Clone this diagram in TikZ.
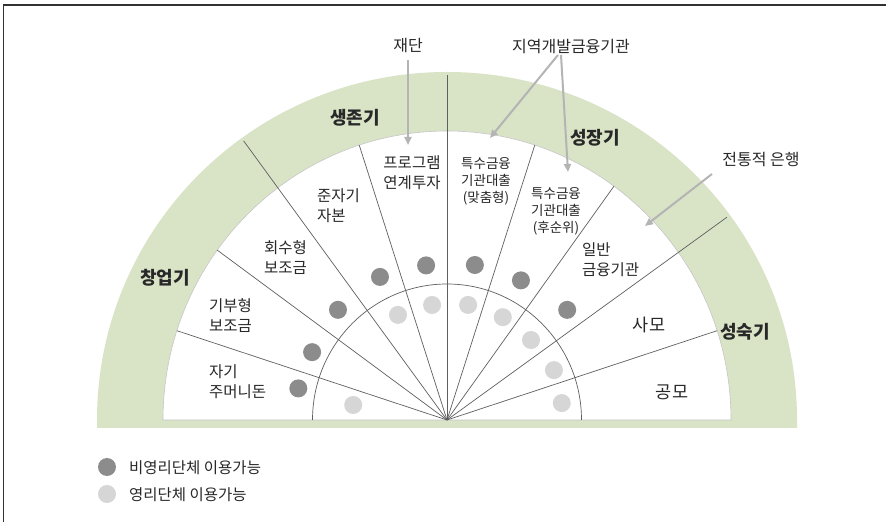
\documentclass[tikz,border=0pt]{standalone}
\usepackage{fontspec}
\setmainfont{Noto Sans CJK KR}
\usetikzlibrary{arrows.meta,calc}
\definecolor{band}{RGB}{217,227,198}
\definecolor{dotdark}{RGB}{140,140,140}
\definecolor{dotlight}{RGB}{214,214,214}
\definecolor{linegray}{RGB}{95,95,95}
\definecolor{arrowgray}{RGB}{180,180,180}
\definecolor{txt}{RGB}{40,40,40}
\definecolor{framegray}{RGB}{50,50,50}
\begin{document}
\begin{tikzpicture}[x=1pt,y=1pt,
  sector/.style={font=\fontsize{15.5}{20}\selectfont, text=txt, align=left, inner sep=0pt},
  sectorbig/.style={font=\fontsize{17.5}{20}\selectfont, text=txt, inner sep=0pt},
  sectorsm/.style={font=\fontsize{13.5}{17}\selectfont, text=txt, align=center, inner sep=0pt},
  stage/.style={font=\fontsize{18}{20}\selectfont\bfseries, text=txt, inner sep=0pt},
  callout/.style={font=\fontsize{16}{18}\selectfont, text=txt, inner sep=0pt},
  legendtext/.style={font=\fontsize{15.5}{18}\selectfont, text=txt, inner sep=0pt, anchor=west},
  darkdot/.style={circle, fill=dotdark, minimum size=18pt, inner sep=0pt},
  lightdot/.style={circle, fill=dotlight, minimum size=18pt, inner sep=0pt},
  sepline/.style={draw=linegray, line width=0.7pt},
  callarrow/.style={draw=arrowgray, line width=2pt, -{Triangle[length=8pt,width=7pt]}}
]
\useasboundingbox (0,0) rectangle (886,522);
\fill[white] (0,0) rectangle (886,522);
% frame (top and left only)
\draw[framegray, line width=1.6pt] (3.5,0) -- (3.5,517) -- (886,517);

\coordinate (C) at (447,102);
% green band
\fill[band] (97,94) -- (97,102) arc[start angle=180, end angle=0, x radius=350, y radius=348] -- (797,94) -- cycle;
% white fan
\filldraw[fill=white, draw=gray!45, line width=0.6pt] (163,102) arc[start angle=180, end angle=0, x radius=284, y radius=289] -- cycle;
% inner arc
\draw[sepline] (312.5,102) arc[start angle=180, end angle=0, x radius=134.5, y radius=136];
% sector lines
\foreach \a in {162,144,108,72,54,18} {
  \draw[sepline] (C) -- ++(\a:284 and 289);
}
\foreach \a in {126,90,36} {
  \draw[sepline] (C) -- ++(\a:346 and 345);
}

% dark dots (nonprofit)
\node[darkdot] (d1) at ($(C)+(168:152)$) {};
\node[darkdot] (d2) at ($(C)+(153.3:151)$) {};
\node[darkdot] (d3) at ($(C)+(134.7:155)$) {};
\node[darkdot] (d4) at ($(C)+(115.1:158)$) {};
\node[darkdot] (d5) at ($(C)+(97.7:156)$) {};
\node[darkdot] (d6) at ($(C)+(79.8:157.5)$) {};
\node[darkdot] (d7) at ($(C)+(62.1:158)$) {};
\node[darkdot] (d8) at ($(C)+(42.5:163)$) {};
% light dots (for-profit)
\node[lightdot] (l1) at ($(C)+(170.9:95)$) {};
\node[lightdot] (l2) at ($(C)+(115:116)$) {};
\node[lightdot] (l3) at ($(C)+(97.4:116)$) {};
\node[lightdot] (l4) at ($(C)+(79.6:117)$) {};
\node[lightdot] (l5) at ($(C)+(61.5:117)$) {};
\node[lightdot] (l6) at ($(C)+(43.6:116)$) {};
\node[lightdot] (l7) at ($(C)+(25:118)$) {};
\node[lightdot] (l8) at ($(C)+(8.4:116)$) {};

% sector labels
\node[sector, anchor=west] (s1) at (209,140) {자기\\주머니돈};
\node[sector, anchor=west] (s2) at (209,206) {기부형\\보조금};
\node[sector, anchor=west] (s3) at (264,264) {회수형\\보조금};
\node[sector, anchor=west] (s4) at (317,316) {준자기\\자본};
\node[sector, align=center] (s5) at (412,349) {프로그램\\연계투자};
\node[sectorsm] (s6) at (486,341) {특수금융\\기관대출\\(맞춤형)};
\node[sectorsm] (s7) at (556,311) {특수금융\\기관대출\\(후순위)};
\node[sector, anchor=west] (s8) at (582,262) {일반\\금융기관};
\node[sectorbig] (s9) at (649,197) {사모};
\node[sectorbig] (s10) at (672,130) {공모};

% stage labels
\node[stage] (g1) at (165,244) {창업기};
\node[stage] (g2) at (355,404) {생존기};
\node[stage] (g3) at (595,384) {성장기};
\node[stage] (g4) at (745,190) {성숙기};

% callouts
\node[callout] (jd) at (408,476) {재단};
\node[callout] (cd) at (571,475) {지역개발금융기관};
\node[callout] (tb) at (761,362) {전통적 은행};

\coordinate (jdS) at (408,462);
\coordinate (jdT) at (408,377);
\coordinate (cdS1) at (558,467);
\coordinate (cdT1) at (490,384);
\coordinate (cdS2) at (561,467);
\coordinate (cdT2) at (568,350);
\coordinate (tbS) at (712,348);
\coordinate (tbT) at (645,296);
\draw[callarrow] (jdS) -- (jdT);
\draw[callarrow] (cdS1) -- (cdT1);
\draw[callarrow] (cdS2) -- (cdT2);
\draw[callarrow] (tbS) -- (tbT);

% legend
\node[darkdot] (ld) at (107,55) {};
\node[legendtext] (ldt) at (129,54) {비영리단체 이용가능};
\node[lightdot] (ll) at (107,28) {};
\node[legendtext] (llt) at (129,27) {영리단체 이용가능};
\end{tikzpicture}
\end{document}
